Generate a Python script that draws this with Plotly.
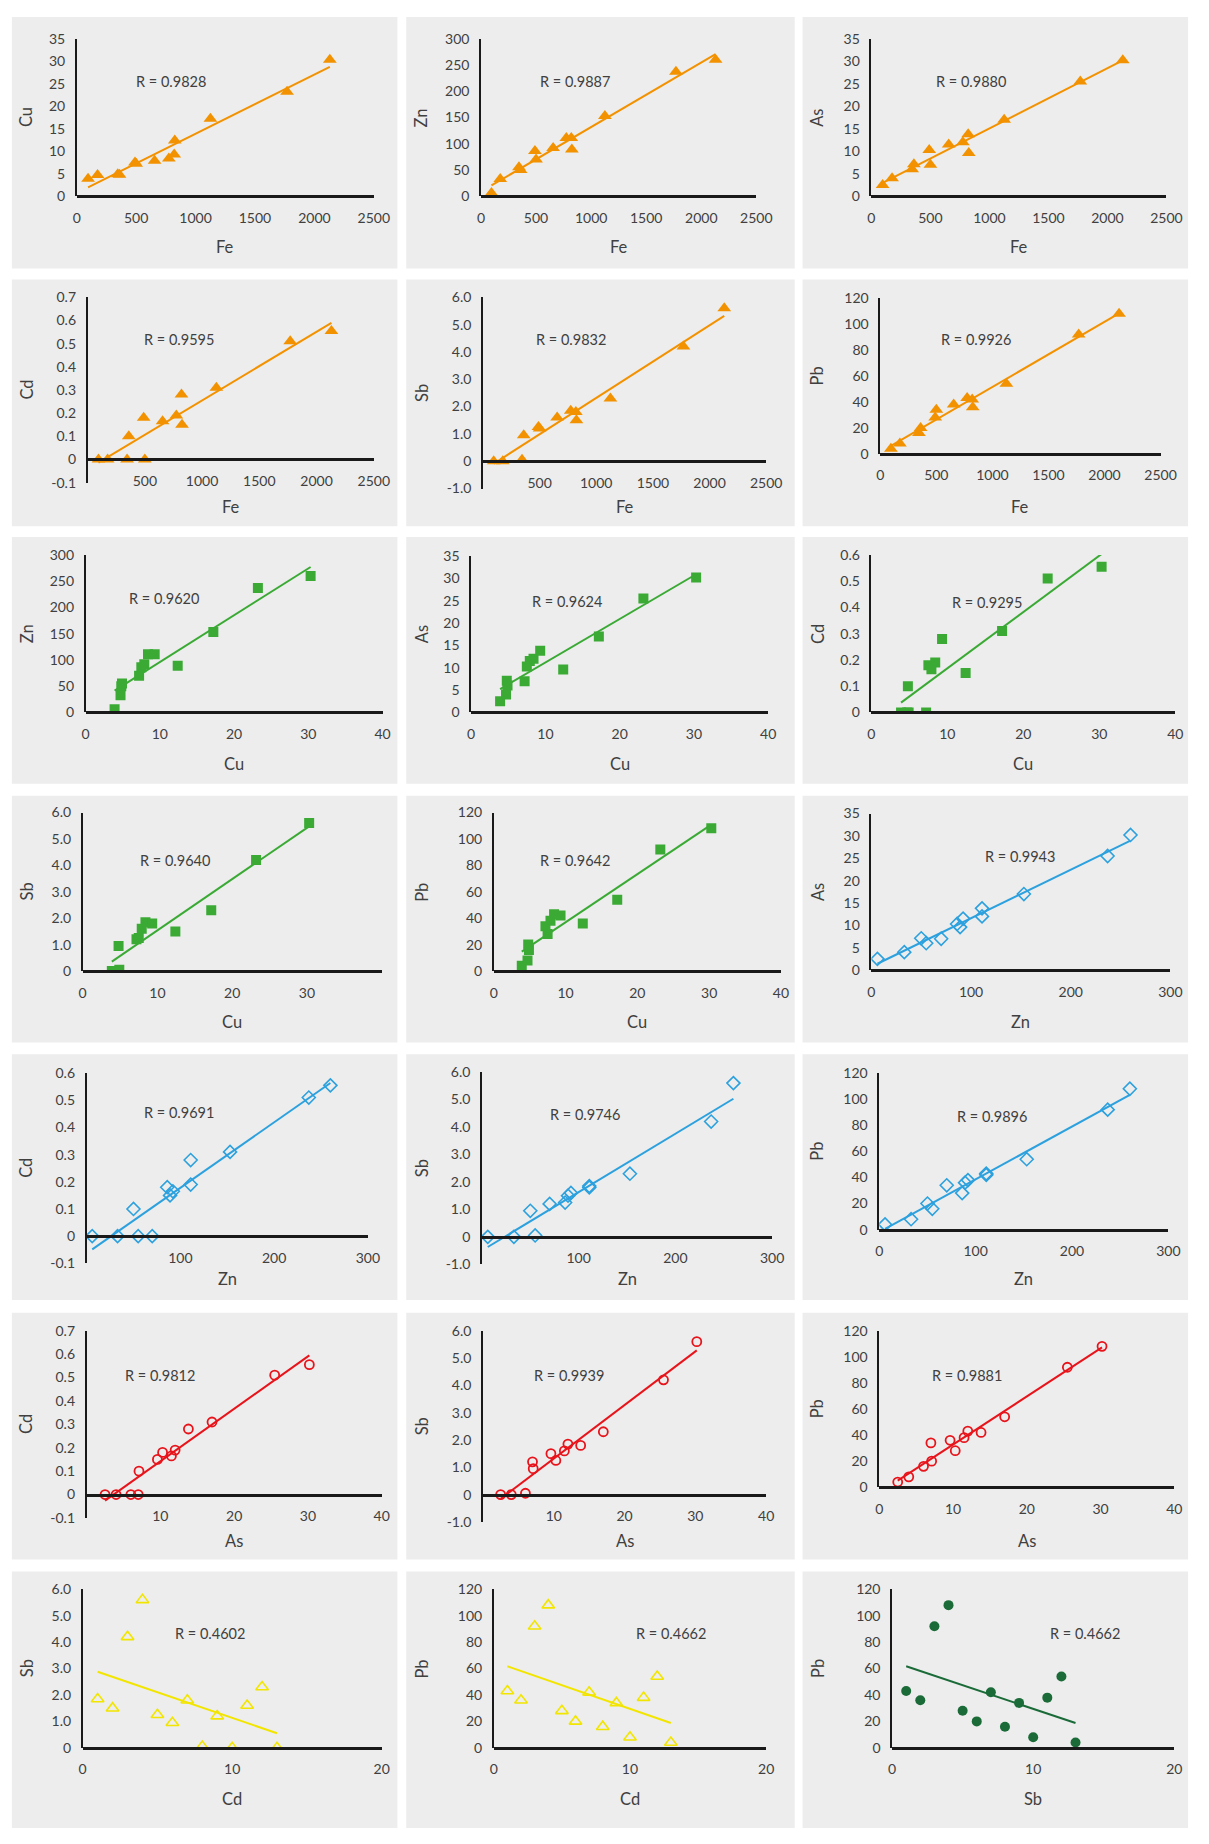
import numpy as np
import plotly.graph_objects as go

# ---------------- data (13 samples) ----------------
sample_no = [1, 2, 3, 4, 5, 6, 7, 8, 9, 10, 11, 12, 13]
Fe = [775, 825, 1770, 2130, 490, 360, 820, 345, 500, 175, 655, 1125, 95]
Cu = [8.4, 12.4, 23.2, 30.3, 7.5, 4.8, 9.3, 4.9, 7.2, 4.7, 7.9, 17.2, 3.9]
Zn = [111, 89, 237, 260, 86, 50, 111, 55, 70, 33, 92, 153, 6]
As = [12.0, 9.6, 25.5, 30.2, 10.3, 7.1, 13.8, 6.0, 7.0, 4.0, 11.5, 17.0, 2.5]
Cd = [0.19, 0.15, 0.51, 0.555, 0.18, 0.10, 0.28, 0.0, 0.0, 0.0, 0.165, 0.31, 0.0]
Sb = [1.85, 1.5, 4.2, 5.6, 1.25, 0.95, 1.8, 0.05, 1.2, 0.0, 1.6, 2.3, 0.0]
Pb = [43, 36, 92, 108, 28, 20, 42, 16, 34, 8, 38, 54, 4]

R_labels = ["R = 0.9828", "R = 0.9887", "R = 0.9880",
            "R = 0.9595", "R = 0.9832", "R = 0.9926",
            "R = 0.9620", "R = 0.9624", "R = 0.9295",
            "R = 0.9640", "R = 0.9642", "R = 0.9943",
            "R = 0.9691", "R = 0.9746", "R = 0.9896",
            "R = 0.9812", "R = 0.9939", "R = 0.9881",
            "R = 0.4602", "R = 0.4662", "R = 0.4662"]

# tick sets
fe_ticks = [0, 500, 1000, 1500, 2000, 2500]
fe_text = ["0", "500", "1000", "1500", "2000", "2500"]
t40 = [0, 10, 20, 30, 40]
t40_text = ["0", "10", "20", "30", "40"]
t40b = [0, 10, 20, 30]
t40b_text = ["0", "10", "20", "30"]
t300 = [0, 100, 200, 300]
t300_text = ["0", "100", "200", "300"]
t20 = [0, 10, 20]
t20_text = ["0", "10", "20"]

y35 = [0, 5, 10, 15, 20, 25, 30, 35]
y35_text = ["0", "5", "10", "15", "20", "25", "30", "35"]
y300 = [0, 50, 100, 150, 200, 250, 300]
y300_text = ["0", "50", "100", "150", "200", "250", "300"]
y120 = [0, 20, 40, 60, 80, 100, 120]
y120_text = ["0", "20", "40", "60", "80", "100", "120"]
ycd7 = [-0.1, 0, 0.1, 0.2, 0.3, 0.4, 0.5, 0.6, 0.7]
ycd7_text = ["-0.1", "0", "0.1", "0.2", "0.3", "0.4", "0.5", "0.6", "0.7"]
ycd6n = [-0.1, 0, 0.1, 0.2, 0.3, 0.4, 0.5, 0.6]
ycd6n_text = ["-0.1", "0", "0.1", "0.2", "0.3", "0.4", "0.5", "0.6"]
ycd6 = [0, 0.1, 0.2, 0.3, 0.4, 0.5, 0.6]
ycd6_text = ["0", "0.1", "0.2", "0.3", "0.4", "0.5", "0.6"]
ysbn = [-1, 0, 1, 2, 3, 4, 5, 6]
ysbn_text = ["-1.0", "0", "1.0", "2.0", "3.0", "4.0", "5.0", "6.0"]
ysb = [0, 1, 2, 3, 4, 5, 6]
ysb_text = ["0", "1.0", "2.0", "3.0", "4.0", "5.0", "6.0"]

data = {"Fe": Fe, "Cu": Cu, "Zn": Zn, "As": As, "Cd": Cd, "Sb": Sb, "Pb": Pb,
        "No": sample_no}

# ---------------- styles ----------------
styles = {
    "fe": dict(symbol="triangle-up", color="#F39200", size=12, lw=0),
    "cu": dict(symbol="square", color="#3AAA35", size=10, lw=0),
    "zn": dict(symbol="diamond-open", color="#2CA1DE", size=10, lw=1.6),
    "as": dict(symbol="circle-open", color="#E8141B", size=9, lw=1.8),
    "cd": dict(symbol="triangle-up-open", color="#F2E500", size=11, lw=1.6),
    "sb": dict(symbol="circle", color="#1B6B38", size=10, lw=0),
}

# panel: (xvar, xlabel, yvar, style, xrange, xticks, xtext, yrange, yticks, ytext)
panels = [
    ("Fe", "Fe", "Cu", "fe", 2500, fe_ticks, fe_text, (0, 35), y35, y35_text),
    ("Fe", "Fe", "Zn", "fe", 2500, fe_ticks, fe_text, (0, 300), y300, y300_text),
    ("Fe", "Fe", "As", "fe", 2500, fe_ticks, fe_text, (0, 35), y35, y35_text),
    ("Fe", "Fe", "Cd", "fe", 2500, fe_ticks, fe_text, (-0.1, 0.7), ycd7, ycd7_text),
    ("Fe", "Fe", "Sb", "fe", 2500, fe_ticks, fe_text, (-1, 6), ysbn, ysbn_text),
    ("Fe", "Fe", "Pb", "fe", 2500, fe_ticks, fe_text, (0, 120), y120, y120_text),
    ("Cu", "Cu", "Zn", "cu", 40, t40, t40_text, (0, 300), y300, y300_text),
    ("Cu", "Cu", "As", "cu", 40, t40, t40_text, (0, 35), y35, y35_text),
    ("Cu", "Cu", "Cd", "cu", 40, t40, t40_text, (0, 0.6), ycd6, ycd6_text),
    ("Cu", "Cu", "Sb", "cu", 40, t40b, t40b_text, (0, 6), ysb, ysb_text),
    ("Cu", "Cu", "Pb", "cu", 40, t40, t40_text, (0, 120), y120, y120_text),
    ("Zn", "Zn", "As", "zn", 300, t300, t300_text, (0, 35), y35, y35_text),
    ("Zn", "Zn", "Cd", "zn", 300, t300, t300_text, (-0.1, 0.6), ycd6n, ycd6n_text),
    ("Zn", "Zn", "Sb", "zn", 300, t300, t300_text, (-1, 6), ysbn, ysbn_text),
    ("Zn", "Zn", "Pb", "zn", 300, t300, t300_text, (0, 120), y120, y120_text),
    ("As", "As", "Cd", "as", 40, t40, t40_text, (-0.1, 0.7), ycd7, ycd7_text),
    ("As", "As", "Sb", "as", 40, t40, t40_text, (-1, 6), ysbn, ysbn_text),
    ("As", "As", "Pb", "as", 40, t40, t40_text, (0, 120), y120, y120_text),
    ("No", "Cd", "Sb", "cd", 20, t20, t20_text, (0, 6), ysb, ysb_text),
    ("No", "Cd", "Pb", "cd", 20, t20, t20_text, (0, 120), y120, y120_text),
    ("No", "Sb", "Pb", "sb", 20, t20, t20_text, (0, 120), y120, y120_text),
]

# ---------------- layout geometry (pixels) ----------------
W, H = 1209, 1844
# plot boxes: (left, right, top, bottom)
boxes = [
    (74, 376, 30, 189), (485, 765, 30, 189), (882, 1182, 30, 189),
    (85, 376, 291, 478), (487, 775, 291, 484), (891, 1176, 292, 449),
    (83, 385, 551, 710), (475, 777, 552, 710), (882, 1191, 551, 710),
    (80, 384, 811, 971), (498, 790, 811, 971), (882, 1186, 812, 970),
    (84, 370, 1074, 1266), (486, 781, 1073, 1267), (890, 1184, 1074, 1232),
    (84, 384, 1334, 1523), (487, 775, 1334, 1527), (890, 1190, 1334, 1492),
    (80, 384, 1595, 1755), (498, 775, 1595, 1755), (903, 1190, 1595, 1755),
]
panel_cols = [(8, 400), (409, 804), (812, 1204)]
panel_rows = [(8, 262), (273, 522), (533, 782), (794, 1043), (1055, 1303),
              (1316, 1565), (1577, 1836)]
xtitle_y = [240, 503, 762, 1022, 1282, 1546, 1807]
ytitle_x = [23, 425, 827]
r_pos = [
    (170, 73), (581, 73), (983, 73),
    (178, 334), (577, 334), (988, 334),
    (163, 595), (572, 598), (1000, 599),
    (174, 859), (581, 859), (1033, 855),
    (178, 1114), (591, 1116), (1005, 1118),
    (159, 1379), (575, 1379), (979, 1379),
    (209, 1640), (678, 1640), (1099, 1640),
]

FONT = "Lato, 'Open Sans', sans-serif"
TXT = "#404040"
TICK_SIZE = 14
TITLE_SIZE = 16.5
R_SIZE = 14.5


def px(xp):
    return xp / W


def py(yp):
    return 1 - yp / H


fig = go.Figure()
layout = dict(
    width=W, height=H, margin=dict(l=0, r=0, t=0, b=0),
    paper_bgcolor="white", plot_bgcolor="rgba(0,0,0,0)",
    showlegend=False, font=dict(family=FONT, color=TXT),
)
shapes = []
annotations = []

for r0, r1 in panel_rows:
    for c0, c1 in panel_cols:
        shapes.append(dict(type="rect", xref="paper", yref="paper",
                           x0=px(c0), x1=px(c1), y0=py(r1), y1=py(r0),
                           fillcolor="#EDEDED", line=dict(width=0), layer="below"))

for i, (p, box) in enumerate(zip(panels, boxes)):
    xvar, xlab, yvar, sty, xmax, xt, xtt, yr, yt, ytt = p
    L, R, T, B = box
    k = i + 1
    sfx = "" if k == 1 else str(k)
    st = styles[sty]
    xs = np.array(data[xvar], dtype=float)
    ys = np.array(data[yvar], dtype=float)

    # trend line (least squares) over the data span
    coef = np.polyfit(xs, ys, 1)
    xl = np.array([xs.min(), xs.max()])
    yl = np.polyval(coef, xl)
    fig.add_trace(go.Scatter(x=xl, y=yl, mode="lines",
                             line=dict(color=st["color"], width=2),
                             xaxis="x" + sfx, yaxis="y" + sfx, hoverinfo="skip"))
    fig.add_trace(go.Scatter(x=xs, y=ys, mode="markers",
                             marker=dict(symbol=st["symbol"], size=st["size"],
                                         color=st["color"],
                                         line=dict(color=st["color"], width=st["lw"])),
                             xaxis="x" + sfx, yaxis="y" + sfx))

    ymin, ymax = yr
    # when the value axis goes below zero the "0" category label is hidden
    if ymin < 0:
        xt, xtt = xt[1:], xtt[1:]
    zero_px = B - (0 - ymin) / (ymax - ymin) * (B - T)
    layout["xaxis" + sfx] = dict(
        domain=[px(L), px(R)], range=[0, xmax], anchor="free", position=py(zero_px),
        showline=True, linewidth=2.5, linecolor="#1a1a1a", ticks="",
        tickmode="array", tickvals=xt, ticktext=xtt, showgrid=False, zeroline=False,
        tickfont=dict(family=FONT, size=TICK_SIZE, color=TXT), ticklabelstandoff=8,
    )
    layout["yaxis" + sfx] = dict(
        domain=[py(B), py(T)], range=[ymin, ymax], anchor="x" + sfx,
        showline=True, linewidth=1.5, linecolor="#1a1a1a", ticks="",
        tickmode="array", tickvals=yt, ticktext=ytt, showgrid=False, zeroline=False,
        tickfont=dict(family=FONT, size=TICK_SIZE, color=TXT), ticklabelstandoff=7,
    )

    row, col = divmod(i, 3)
    annotations.append(dict(text=xlab, xref="paper", yref="paper",
                            x=px((L + R) / 2), y=py(xtitle_y[row]),
                            showarrow=False, xanchor="center", yanchor="middle",
                            font=dict(family=FONT, size=TITLE_SIZE, color=TXT)))
    annotations.append(dict(text=yvar, xref="paper", yref="paper",
                            x=px(ytitle_x[col]), y=py((T + B) / 2), textangle=-90,
                            showarrow=False, xanchor="center", yanchor="middle",
                            font=dict(family=FONT, size=TITLE_SIZE, color=TXT)))
    rx, ry = r_pos[i]
    annotations.append(dict(text=R_labels[i], xref="paper", yref="paper",
                            x=px(rx), y=py(ry), showarrow=False,
                            xanchor="center", yanchor="middle",
                            font=dict(family=FONT, size=R_SIZE, color=TXT)))

layout["shapes"] = shapes
layout["annotations"] = annotations
fig.update_layout(**layout)
fig.write_html(
    "out.html",
    config={"displayModeBar": False},
    post_script="document.body.style.margin='0';document.body.style.padding='0';"
                "document.body.style.overflow='hidden';",
)
